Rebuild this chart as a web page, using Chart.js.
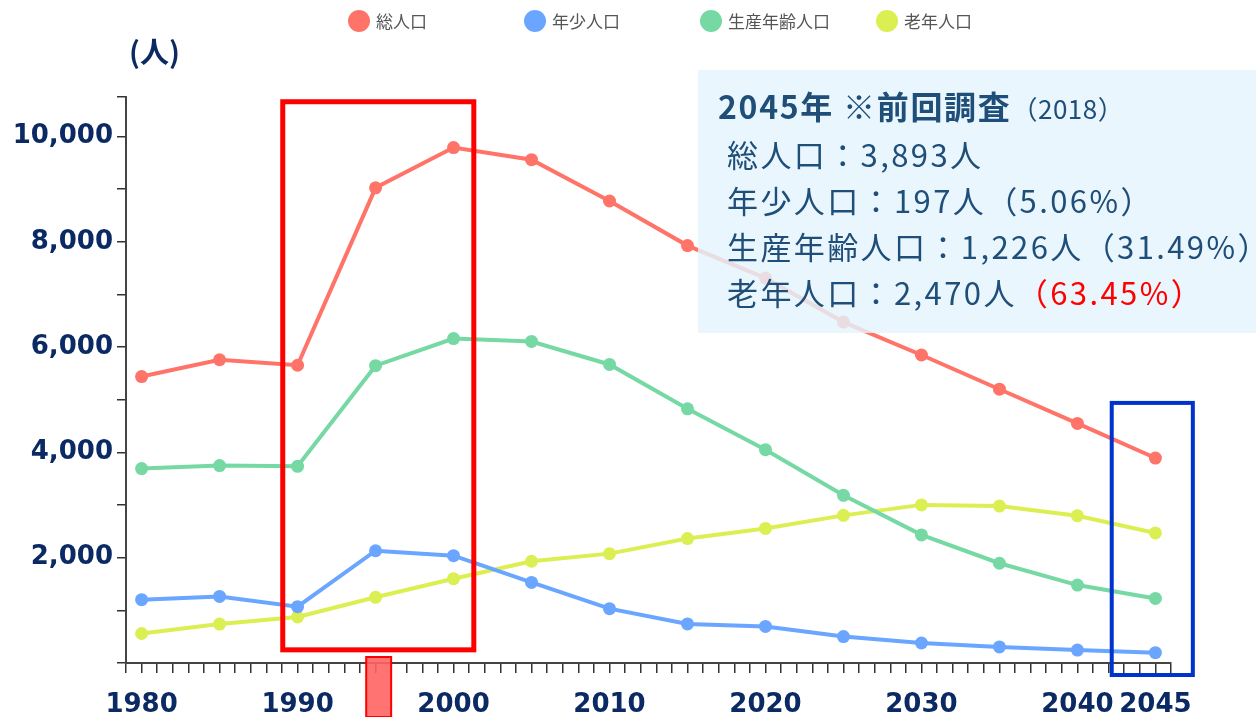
<!DOCTYPE html>
<html lang="ja">
<head>
<meta charset="utf-8">
<title>人口推移</title>
<script src="https://cdn.jsdelivr.net/npm/chart.js@4.4.1/dist/chart.umd.min.js"></script>
<style>
	html, body { margin: 0; padding: 0; background: #fff; }
	#wrap { position: relative; width: 1256px; height: 717px; overflow: hidden; }
	#legend { position: absolute; top: 8px; left: 348px; display: flex; }
	.lg-item { width: 176px; display: flex; align-items: center; }
	.lg-dot { width: 22px; height: 22px; border-radius: 50%; margin-right: 6px; }
	.lg-text { font: 17px "Noto Sans CJK JP", sans-serif; color: #555; }
</style>
</head>
<body>
<div id="wrap">
	<canvas id="chart" width="1256" height="717"></canvas>
	<div id="legend"></div>
</div>
<script>
// ---- Data ----
const YEARS = [1980, 1985, 1990, 1995, 2000, 2005, 2010, 2015, 2020, 2025, 2030, 2035, 2040, 2045];
const TOTAL = [5440, 5760, 5655, 9025, 9790, 9560, 8775, 7928, 7310, 6475, 5850, 5200, 4550, 3893];
const YOUTH = [1203, 1265, 1070, 2132, 2039, 1530, 1032, 742, 695, 502, 380, 305, 245, 197];
const WORKING = [3692, 3750, 3735, 5647, 6162, 6107, 5670, 4827, 4052, 3185, 2433, 1895, 1480, 1226];
const ELDERLY = [560, 740, 875, 1248, 1601, 1932, 2077, 2363, 2556, 2804, 3003, 2980, 2798, 2470];

const SERIES_LABELS = ["総人口", "年少人口", "生産年齢人口", "老年人口"];
const X_LABEL_YEARS = [1980, 1990, 2000, 2010, 2020, 2030, 2040, 2045];
const Y_TICKS = [0, 1000, 2000, 3000, 4000, 5000, 6000, 7000, 8000, 9000, 10000, 10750];
const Y_LABELS = [2000, 4000, 6000, 8000, 10000];

const INFO_TITLE = "2045年 ※前回調査";
const INFO_SUB = "（2018）";
const INFO_LINES = [
	["総人口：3,893人", ""],
	["年少人口：197人（5.06%）", ""],
	["生産年齢人口：1,226人（31.49%）", ""],
	["老年人口：2,470人", "（63.45%）"],
];

// ---- Styles ----
const COLORS = ["#ff7369", "#6aa6ff", "#76d9a4", "#dcef52"];
const NAVY = "#0b2a63";
const INFO_BLUE = "#1f4e79";

const $ = (sel) => document.querySelector(sel);

function toPoints(values) {
	return YEARS.map((y, i) => ({ x: y, y: values[i] }));
}

// ---- Legend (HTML) ----
function buildLegend() {
	const el = $("#legend");
	SERIES_LABELS.forEach((label, i) => {
		const item = document.createElement("div");
		item.className = "lg-item";
		item.innerHTML = `<span class="lg-dot" style="background:${COLORS[i]}"></span><span class="lg-text">${label}</span>`;
		el.appendChild(item);
	});
}

// ---- Annotations ----
const annotations = {
	id: "annotations",
	afterDatasetsDraw(chart) {
		const { ctx, scales } = chart;
		const x = scales.x;
		const y = scales.y;
		ctx.save();

		// unit label
		ctx.fillStyle = NAVY;
		ctx.font = 'bold 29px "Noto Sans CJK JP"';
		ctx.textBaseline = "middle";
		ctx.fillText("(人)", 129, 52);

		// red box 1990-2000
		ctx.strokeStyle = "#ff0000";
		ctx.lineWidth = 5;
		let x1 = x.getPixelForValue(1989.05);
		let x2 = x.getPixelForValue(2001.3);
		let y1 = y.getPixelForValue(10660);
		let y2 = y.getPixelForValue(250);
		ctx.strokeRect(x1, y1, x2 - x1, y2 - y1);

		// marker below axis at 1995
		x1 = x.getPixelForValue(1994.4);
		x2 = x.getPixelForValue(1996.0);
		const y0 = y.getPixelForValue(0);
		ctx.fillStyle = "rgba(255,100,100,0.9)";
		ctx.fillRect(x1, y0 - 6, x2 - x1, chart.height - y0 + 6);
		ctx.lineWidth = 2;
		ctx.strokeRect(x1, y0 - 6, x2 - x1, chart.height - y0 + 6);

		// blue box 2045
		ctx.strokeStyle = "#0033cc";
		ctx.lineWidth = 4;
		x1 = x.getPixelForValue(2042.2);
		x2 = x.getPixelForValue(2047.4);
		y1 = y.getPixelForValue(4940);
		y2 = y0 + 12;
		ctx.strokeRect(x1, y1, x2 - x1, y2 - y1);

		// info panel
		ctx.fillStyle = "rgba(228,244,253,0.82)";
		ctx.fillRect(698, 70, 1256 - 698, 263);

		ctx.textBaseline = "middle";
		ctx.fillStyle = INFO_BLUE;
		ctx.font = 'bold 32px "Noto Sans CJK JP"';
		ctx.letterSpacing = "1.7px";
		ctx.fillText(INFO_TITLE, 718, 107);
		const tw = ctx.measureText(INFO_TITLE).width;
		ctx.font = '26px "Noto Sans CJK JP"';
		ctx.letterSpacing = "0.5px";
		ctx.fillText(INFO_SUB, 718 + tw, 109);

		ctx.font = '31px "Noto Sans CJK JP"';
		ctx.letterSpacing = "2.4px";
		INFO_LINES.forEach(([main, red], i) => {
			const ly = 155 + i * 46;
			ctx.fillStyle = INFO_BLUE;
			ctx.fillText(main, 727, ly);
			if (red) {
				const w = ctx.measureText(main).width;
				ctx.fillStyle = "#ff0000";
				ctx.fillText(red, 727 + w, ly);
			}
		});
		ctx.restore();
	},
};

// ---- Chart ----
function buildChart() {
	const datasets = [TOTAL, YOUTH, WORKING, ELDERLY].map((vals, i) => ({
		label: SERIES_LABELS[i],
		data: toPoints(vals),
		borderColor: COLORS[i],
		backgroundColor: COLORS[i],
		pointBackgroundColor: COLORS[i],
		pointBorderColor: COLORS[i],
		borderWidth: 4,
		pointRadius: 6.5,
		pointBorderWidth: 0,
		tension: 0,
	}));

	return new Chart($("#chart"), {
		type: "line",
		data: { datasets },
		options: {
			responsive: false,
			animation: false,
			devicePixelRatio: 1,
			layout: { padding: { top: 97, right: 85, left: 0, bottom: 0 } },
			plugins: {
				legend: { display: false },
				tooltip: { enabled: false },
			},
			scales: {
				x: {
					type: "linear",
					min: 1979,
					max: 2046,
					afterFit: (s) => { s.height = 54; },
					border: { color: "#444", width: 2 },
					grid: {
						drawOnChartArea: false,
						drawTicks: true,
						tickLength: 10,
						color: "#333",
						lineWidth: 1.5,
					},
					ticks: {
						stepSize: 1,
						autoSkip: false,
						maxRotation: 0,
						padding: 17,
						color: NAVY,
						font: { family: "DejaVu Sans", size: 26, weight: "bold" },
						callback: (v) => (X_LABEL_YEARS.includes(v) ? String(v) : ""),
					},
				},
				y: {
					min: 0,
					max: 10750,
					afterFit: (s) => { s.width = 126; },
					afterBuildTicks: (s) => { s.ticks = Y_TICKS.map((v) => ({ value: v })); },
					border: { color: "#444", width: 2 },
					grid: {
						drawOnChartArea: false,
						drawTicks: true,
						tickLength: 9,
						color: "#333",
						lineWidth: 1.5,
					},
					ticks: {
						autoSkip: false,
						padding: 4,
						color: NAVY,
						font: { family: "DejaVu Sans", size: 26, weight: "bold" },
						callback: (v) => (Y_LABELS.includes(v) ? v.toLocaleString("en-US") : ""),
					},
				},
			},
		},
		plugins: [annotations],
	});
}

buildLegend();
buildChart();
</script>
</body>
</html>
